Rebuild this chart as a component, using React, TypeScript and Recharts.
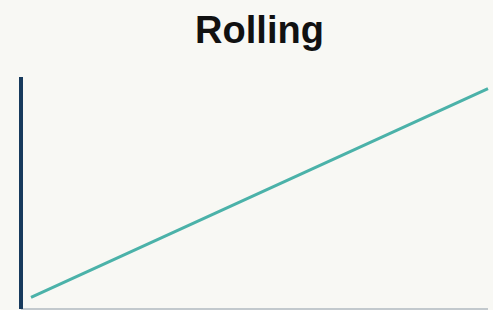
import React from "react";
import { LineChart, Line, XAxis, YAxis } from "recharts";

const steps = [0, 2, 4, 6, 8, 10];
const rolling = [5, 23, 41, 59, 77, 95];

const data = steps.map((s, i) => ({ step: s, value: rolling[i] }));

const BG = "#f8f8f4";
const NAVY = "#173a5c";
const TEAL = "#4bb2a9";
const GRAY = "#8d9aa6";

export default function App() {
  return (
    <div
      style={{
        position: "fixed",
        left: 0,
        top: 0,
        width: 493,
        height: 310,
        background: BG,
        overflow: "hidden",
      }}
    >
      <div
        style={{
          position: "absolute",
          top: 9,
          left: 26,
          width: 467,
          textAlign: "center",
          fontFamily: "Liberation Sans, Arial, sans-serif",
          fontWeight: 700,
          fontSize: 38,
          color: "#111",
          lineHeight: "normal",
        }}
      >
        Rolling
      </div>
      <LineChart
        width={493}
        height={310}
        data={data}
        margin={{ top: 77, right: 5, left: 20, bottom: 0 }}
      >
        <XAxis
          dataKey="step"
          type="number"
          domain={[0, 10]}
          padding={{ left: 10, right: 0 }}
          tick={false}
          tickLine={false}
          height={1}
          axisLine={{ stroke: GRAY, strokeWidth: 1 }}
        />
        <YAxis
          domain={[0, 100]}
          tick={false}
          tickLine={false}
          width={1}
          axisLine={{ stroke: NAVY, strokeWidth: 4 }}
        />
        <Line
          type="linear"
          dataKey="value"
          stroke={TEAL}
          strokeWidth={3}
          dot={false}
          isAnimationActive={false}
        />
      </LineChart>
    </div>
  );
}
